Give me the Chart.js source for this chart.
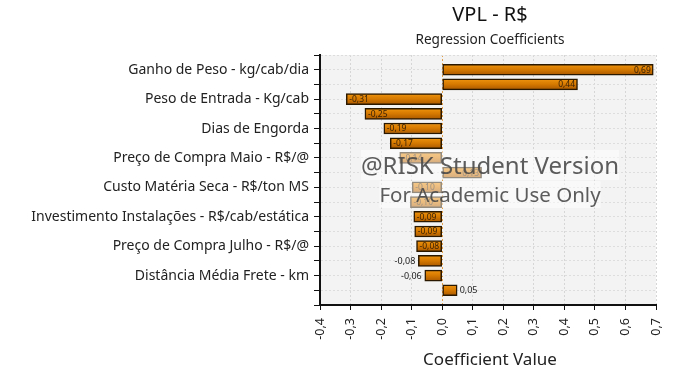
<!DOCTYPE html>
<html>
<head>
<meta charset="utf-8">
<script src="https://cdn.jsdelivr.net/npm/chart.js@4"></script>
<style>html,body{margin:0;padding:0;background:#fff}canvas{display:block}</style>
</head>
<body>
<canvas id="c" width="697" height="390"></canvas>
<script>
// ---- data ----
const chartTitle = 'VPL - R$';
const chartSubtitle = 'Regression Coefficients';
const axisTitle = 'Coefficient Value';
// one entry per bar, top to bottom; only every other bar is labelled in the reference
const categories = [
  'Ganho de Peso - kg/cab/dia', '',
  'Peso de Entrada - Kg/cab', '',
  'Dias de Engorda', '',
  'Preço de Compra Maio - R$/@', '',
  'Custo Matéria Seca - R$/ton MS', '',
  'Investimento Instalações - R$/cab/estática', '',
  'Preço de Compra Julho - R$/@', '',
  'Distância Média Frete - km', ''
];
const coefficients = [0.691, 0.443, -0.314, -0.253, -0.191, -0.170, -0.139, 0.129,
                      -0.098, -0.104, -0.093, -0.090, -0.084, -0.078, -0.057, 0.049];
const xTicks = [-0.4, -0.3, -0.2, -0.1, 0.0, 0.1, 0.2, 0.3, 0.4, 0.5, 0.6, 0.7];
const watermarkLines = ['@RISK Student Version', 'For Academic Use Only'];

const FONT = '"Noto Sans", "DejaVu Sans", sans-serif';
const fmt = v => { const r = Math.round(v * 100) / 100; return (r === 0 ? 0 : r).toFixed(2).replace('.', ','); };

const plotBg = {
  id: 'plotBg',
  beforeDraw(chart) {
    const {ctx, chartArea: a} = chart;
    ctx.save(); ctx.fillStyle = '#f3f3f3';
    ctx.fillRect(a.left, a.top, a.right - a.left, a.bottom - a.top);
    ctx.restore();
  }
};

const barLabels = {
  id: 'barLabels',
  afterDatasetsDraw(chart) {
    const {ctx} = chart;
    const meta = chart.getDatasetMeta(0);
    ctx.save();
    ctx.textBaseline = 'middle';
    meta.data.forEach((el, i) => {
      const v = coefficients[i];
      const txt = fmt(v);
      ctx.font = '8.5px ' + FONT;
      const tw = ctx.measureText(txt).width;
      const w = Math.abs(el.x - el.base);
      const inside = w >= tw + 5;
      const y = el.y + 0.5;
      if (inside) {
        ctx.fillStyle = '#3a2206';
        if (v >= 0) { ctx.textAlign = 'right'; ctx.fillText(txt, el.x - 2.5, y); }
        else { ctx.textAlign = 'left'; ctx.fillText(txt, el.x + 3, y); }
      } else {
        ctx.fillStyle = '#222';
        ctx.font = '9px ' + FONT;
        if (v >= 0) { ctx.textAlign = 'left'; ctx.fillText(txt, el.x + 2.5, y); }
        else { ctx.textAlign = 'right'; ctx.fillText(txt, el.x - 3, y); }
      }
    });
    ctx.restore();
  }
};

const titlesAndWatermark = {
  id: 'titlesAndWatermark',
  afterDraw(chart) {
    const {ctx, chartArea: a} = chart;
    const cx = (a.left + a.right) / 2 + 2;
    ctx.save();
    ctx.textAlign = 'center';
    ctx.textBaseline = 'alphabetic';
    ctx.fillStyle = '#111';
    ctx.font = '20px ' + FONT;
    ctx.fillText(chartTitle, cx, 21);
    ctx.font = '13.6px ' + FONT;
    ctx.fillStyle = '#222';
    ctx.fillText(chartSubtitle, cx, 43.5);
    ctx.font = '17px ' + FONT;
    ctx.fillText(axisTitle, cx, 365);
    // watermark
    const wm = [
      {t: watermarkLines[0], size: 24, base: 173.5, top: 150, bottom: 180},
      {t: watermarkLines[1], size: 20.5, base: 201.5, top: 181, bottom: 208}
    ];
    wm.forEach(l => {
      ctx.font = l.size + 'px ' + FONT;
      const w = ctx.measureText(l.t).width;
      ctx.fillStyle = 'rgba(255,255,255,0.5)';
      ctx.fillRect(cx - w / 2, l.top, w, l.bottom - l.top);
    });
    wm.forEach(l => {
      ctx.font = l.size + 'px ' + FONT;
      ctx.fillStyle = 'rgba(70,70,70,0.88)';
      ctx.fillText(l.t, cx, l.base);
    });
    ctx.restore();
  }
};

const barFill = (c) => {
  const chart = c.chart;
  if (!chart.chartArea || !chart.scales.y || !c.parsed) return '#d87c00';
  const y = chart.scales.y.getPixelForValue(c.parsed.y);
  const g = chart.ctx.createLinearGradient(0, y - 5.5, 0, y + 5.5);
  g.addColorStop(0, '#f0940f');
  g.addColorStop(0.5, '#d47800');
  g.addColorStop(1, '#a95800');
  return g;
};

new Chart(document.getElementById('c'), {
  type: 'bar',
  data: {
    datasets: [{
      data: coefficients.map((v, i) => ({x: v, y: i})),
      backgroundColor: barFill,
      borderColor: '#2a1800',
      borderWidth: 1.5,
      borderSkipped: false,
      barThickness: 11
    }]
  },
  options: {
    indexAxis: 'y',
    responsive: false,
    animation: false,
    devicePixelRatio: 1,
    layout: {padding: {left: 0, right: 41, top: 55, bottom: 17}},
    plugins: {legend: {display: false}, tooltip: {enabled: false}, title: {display: false}},
    scales: {
      x: {
        type: 'linear',
        position: 'bottom',
        offset: false,
        min: xTicks[0], max: xTicks[xTicks.length - 1],
        afterBuildTicks: s => { s.ticks = xTicks.map(v => ({value: v})); },
        afterFit: s => { s.height = 68; s.paddingLeft = 0; s.paddingRight = 0; s.paddingTop = 0; s.paddingBottom = 0; },
        ticks: {
          minRotation: 90, maxRotation: 90, padding: 8,
          color: '#222', font: {family: FONT, size: 12.5},
          callback: v => { const r = Math.round(v * 10) / 10; return (r === 0 ? 0 : r).toFixed(1).replace('.', ','); }
        },
        grid: {
          offset: false,
          color: c => (c.tick && Math.abs(c.tick.value) < 1e-9) ? '#e3a14a' : '#d6d6d6',
          lineWidth: 1, tickColor: '#111', tickLength: 5, drawTicks: true
        },
        border: {display: true, color: '#111', width: 2, dash: [2, 2]}
      },
      y: {
        type: 'linear',
        position: 'left',
        reverse: true,
        offset: false,
        min: -1, max: categories.length,
        afterBuildTicks: s => { const t = []; for (let i = -1; i <= categories.length; i++) t.push({value: i}); s.ticks = t; },
        afterFit: s => { s.width = 320; s.paddingTop = 0; s.paddingBottom = 0; s.paddingLeft = 0; s.paddingRight = 0; },
        ticks: {
          autoSkip: false, padding: 5,
          color: '#222', font: {family: FONT, size: 14},
          callback: v => (v >= 0 && v < categories.length) ? categories[v] : ''
        },
        grid: {offset: false, color: '#dddddd', lineWidth: 1, tickColor: '#111', tickLength: 6},
        border: {display: true, color: '#111', width: 2, dash: [2, 2]}
      }
    }
  },
  plugins: [plotBg, barLabels, titlesAndWatermark]
});
</script>
</body>
</html>
